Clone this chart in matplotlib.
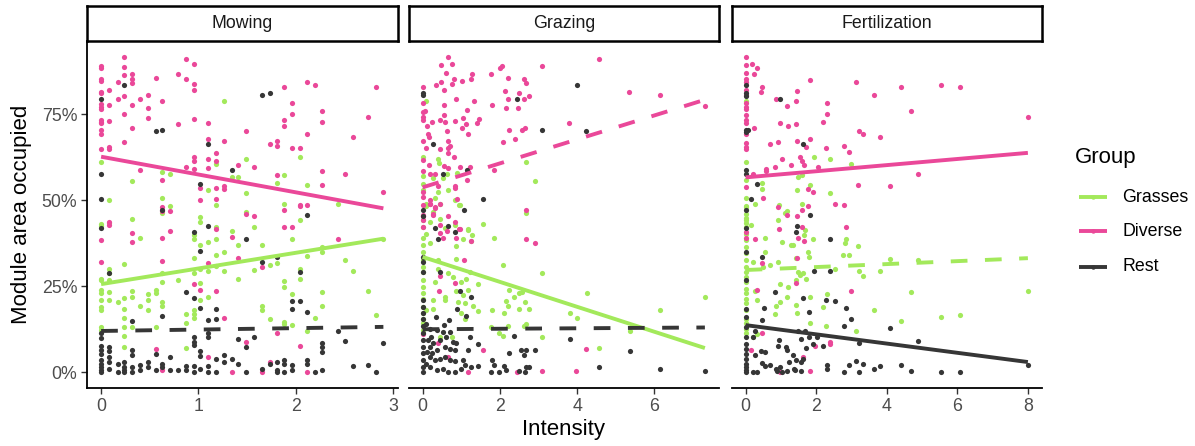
import numpy as np
import matplotlib
matplotlib.use("Agg")
import matplotlib.pyplot as plt
from matplotlib.lines import Line2D
from matplotlib.ticker import FuncFormatter

plt.rcParams['font.family'] = ['Liberation Sans', 'DejaVu Sans']

# ---- data: (intensity, share of module area) per treatment and group ----
mowing_grasses = [
    (1.26, .789), (0, .612), (1.49, .619), (2.04, .626), (0.32, .556), (0.63, .582), (0.71, .577), (1.18, .605),
    (1.34, .566), (1.41, .566), (1.10, .530), (1.18, .487), (1.49, .522), (1.81, .549), (1.88, .572), (2.12, .543),
    (0.085, .499), (0.63, .505), (0.71, .482), (0.63, .463), (0.32, .444), (1.02, .450), (1.02, .437), (1.49, .466),
    (1.88, .490), (2.43, .488), (2.04, .441), (0, .430), (0, .425), (0.085, .434), (0.40, .389), (1.18, .421),
    (1.57, .423), (1.34, .411), (0.95, .398), (0.95, .386), (1.02, .371), (1.10, .377), (1.18, .386), (1.41, .371),
    (1.65, .369), (1.96, .388), (2.90, .386), (0.085, .301), (0.085, .287), (0.085, .267), (0, .272), (0, .267),
    (0, .238), (0, .229), (0, .209), (0, .190), (0, .180), (0, .132), (0, .123), (0.085, .234), (0.085, .211),
    (0.17, .204), (0.24, .314), (0.24, .216), (0.24, .183), (0.24, .158), (0.24, .132), (0.24, .105), (0.24, .074),
    (0.32, .235), (0.32, .219), (0.32, .132), (0.40, .192), (0.48, .228), (0.48, .209), (0.48, .182), (0.56, .240),
    (0.56, .229), (0.56, .132), (0.63, .287), (0.63, .261), (0.63, .204), (0.63, .193), (0.79, .269), (0.87, .168),
    (0.87, .142), (0.87, .071), (0.95, .333), (0.95, .289), (0.95, .182), (0.95, .168), (0.95, .158), (1.02, .299),
    (1.02, .258), (1.02, .209), (1.10, .294), (1.10, .219), (1.18, .340), (1.18, .309), (1.26, .348), (1.26, .294),
    (1.41, .272), (1.57, .297), (1.65, .193), (1.65, .182), (1.73, .311), (1.73, .154), (1.81, .318), (1.88, .265),
    (1.88, .248), (1.88, .146), (1.88, .139), (1.96, .228), (1.96, .137), (2.04, .301), (2.04, .272), (2.12, .337),
    (2.12, .119), (2.20, .158), (2.27, .364), (2.27, .349), (2.27, .232), (2.27, .192), (2.51, .327), (2.59, .294),
    (2.74, .235), (2.82, .165),
]
mowing_diverse = [
    (0.24, .915), (0, .890), (0, .885), (0.24, .887), (0.87, .910), (0.95, .894), (0, .853), (0, .847), (0.24, .864),
    (0.32, .867), (0.32, .853), (0.32, .841), (0.17, .843), (0.56, .855), (0.79, .866), (0.87, .851), (0.95, .837),
    (0.95, .819), (0, .815), (0, .810), (0.085, .820), (0.24, .802), (0.17, .795), (0.40, .795), (0.48, .806),
    (0.63, .788), (0, .779), (0, .771), (0, .764), (0.085, .775), (0.32, .775), (0.48, .768), (0.48, .739),
    (0, .734), (0, .728), (0, .723), (0.085, .731), (0.32, .710), (0.24, .749), (0.79, .720), (0.95, .736),
    (1.10, .725), (0, .703), (0, .691), (0.24, .669), (0, .648), (0.085, .655), (0.085, .648), (1.10, .676),
    (1.26, .673), (1.49, .700), (1.88, .828), (2.12, .844), (2.20, .835), (1.96, .782), (2.82, .829), (2.27, .759),
    (1.96, .749), (1.88, .734), (1.88, .715), (2.27, .728), (2.74, .740), (2.12, .692), (2.59, .683), (1.73, .663),
    (1.81, .672), (1.81, .657), (1.96, .652), (2.04, .652), (0.95, .625), (0.95, .613), (0.95, .590), (0.87, .597),
    (1.10, .620), (1.10, .593), (1.18, .638), (1.18, .614), (1.41, .601), (1.57, .597), (0.40, .588), (0.63, .558),
    (1.02, .536), (1.18, .536), (1.26, .542), (1.26, .531), (1.02, .499), (1.18, .504), (1.81, .574), (2.27, .585),
    (2.27, .545), (2.51, .577), (2.90, .524), (2.04, .487), (2.04, .482), (2.12, .487), (1.88, .471), (0.63, .479),
    (0.71, .469), (0.63, .469), (1.49, .459), (1.57, .454), (0.085, .437), (0.085, .429), (1.88, .422), (1.96, .422),
    (0, .385), (0.32, .405), (0.32, .377), (0.63, .390), (0.63, .324), (0.71, .409), (0, .319), (0.95, .256),
    (1.02, .240), (1.10, .316), (1.18, .235), (1.18, .415), (1.34, .392), (1.41, .333), (1.65, .306), (2.43, .387),
    (1.26, .158), (1.81, .113), (1.49, .088), (0.56, .069), (1.10, .044), (2.04, .076), (1.73, .030), (1.34, 0),
    (1.65, 0), (2.12, 0), (0.63, .006),
]
mowing_rest = [
    (0, .793), (0.24, .833), (1.65, .804), (1.73, .810), (0.56, .700), (0.63, .704), (1.10, .664), (1.34, .588),
    (0, .576), (1.02, .547), (0, .504), (0.63, .470), (2.12, .456), (1.10, .425), (0, .418), (0.085, .289),
    (0.95, .408), (1.02, .352), (1.49, .386), (1.65, .321), (1.81, .335), (2.04, .292), (0.87, .232), (0.95, .216),
    (1.02, .187), (1.18, .185), (0.63, .163), (0.32, .148), (1.10, .151), (1.18, .156), (1.96, .208), (2.04, .206),
    (1.96, .185), (2.12, .175), (0, .113), (0, .100), (0, .076), (0, .066), (0, .052), (0, .037), (0, .025),
    (0, .015), (0, .006), (0, 0), (0.085, .074), (0.085, .061), (0.085, .045), (0.085, .030), (0.085, .011),
    (0.17, .025), (0.17, 0), (0.24, .030), (0.24, .015), (0.24, .006), (0.24, 0), (0.32, .064), (0.32, .049),
    (0.32, .015), (0.32, .002), (0.40, .020), (0.40, .008), (0.48, .030), (0.48, .015), (0.56, .054), (0.56, .008),
    (0.63, .025), (0.63, .015), (0.71, .044), (0.71, .008), (0.79, .006), (0.87, .018), (0.87, .006), (0.95, .018),
    (0.95, .002), (0.95, .103), (0.95, .088), (0.95, .080), (1.02, .061), (1.02, .046), (1.02, .011), (1.10, .113),
    (1.10, .103), (1.10, .018), (1.10, .002), (1.18, .040), (1.18, 0), (1.26, .049), (1.26, .030), (1.34, .040),
    (1.41, .098), (1.41, .023), (1.49, .074), (1.57, .103), (1.49, .002), (1.65, .011), (1.73, .023), (1.81, .030),
    (1.81, .006), (1.81, .002), (1.88, .035), (1.88, .023), (1.88, .002), (1.96, .020), (1.96, .006), (2.12, .035),
    (2.12, .023), (2.20, .002), (2.27, .006), (2.27, .085), (2.27, .074), (2.27, .059), (2.43, .120), (2.51, .090),
    (2.59, .019), (2.74, .020), (2.82, 0), (2.90, .085),
]

grazing_grasses = [
    (0.09, .788), (0, .626), (0.41, .620), (0.43, .607), (0, .570), (0.26, .564), (0.54, .564), (0.64, .575),
    (0.88, .580), (2.68, .611), (2.91, .555), (0, .548), (0, .529), (0.40, .524), (0.67, .530), (0.33, .507),
    (0.44, .489), (0.83, .499), (0.93, .487), (0.08, .489), (0.10, .483), (0.27, .466), (0, .441), (0.20, .436),
    (0.44, .444), (2.69, .464), (1.56, .430), (1.17, .415), (0, .423), (0, .389), (0, .369), (0, .350), (0, .326),
    (0, .306), (0, .292), (0, .267), (0, .248), (0, .229), (0, .214), (0, .190), (0, .171), (0, .156), (0, .142),
    (0, .122), (0.19, .374), (0.40, .326), (0.40, .301), (0.32, .262), (0.27, .209), (0.27, .185), (0.57, .418),
    (0.83, .428), (0.86, .367), (0.86, .330), (0.96, .485), (0.66, .289), (0.79, .277), (0.57, .219), (0.57, .209),
    (0.86, .237), (0.91, .205), (1.00, .263), (1.13, .272), (1.04, .224), (1.17, .239), (1.09, .200), (1.00, .171),
    (1.09, .156), (1.04, .386), (1.28, .398), (1.26, .381), (1.24, .291), (1.43, .255), (1.30, .192), (1.44, .178),
    (1.17, .414), (1.86, .389), (2.08, .313), (2.24, .239), (2.15, .208), (2.20, .192), (2.12, .171), (1.80, .182),
    (2.37, .219), (2.50, .229), (2.58, .234), (2.64, .205), (2.50, .185), (2.75, .183), (2.62, .134), (2.67, .140),
    (1.98, .113), (2.07, .105), (1.77, .132), (2.21, .134), (3.09, .287), (3.09, .103), (3.81, .173), (3.99, .159),
    (4.25, .229), (4.57, .072), (5.36, .119), (6.15, .180), (7.31, .219), (0.77, .103), (0.44, .103), (0.10, .181),
    (0.10, .403),
]
grazing_diverse = [
    (0.66, .915), (0.48, .892), (0.75, .894), (0.61, .868), (1.27, .866), (2.06, .888), (2.00, .885), (3.10, .888),
    (4.56, .910), (0.34, .834), (0.47, .843), (0.55, .820), (0.75, .837), (0.80, .851), (1.01, .845), (1.26, .852),
    (1.77, .865), (2.21, .854), (2.62, .853), (2.68, .840), (0, .828), (2.13, .818), (2.50, .810), (2.21, .795),
    (2.63, .794), (2.75, .802), (0.87, .794), (1.32, .788), (5.35, .815), (6.15, .806), (0, .781), (0, .757),
    (0.07, .758), (0, .740), (0, .733), (0.56, .775), (1.16, .763), (1.80, .777), (2.15, .767), (2.47, .766),
    (0.56, .748), (0.44, .733), (0.57, .727), (0.25, .727), (0.84, .729), (1.05, .739), (1.45, .736), (1.42, .725),
    (0.12, .715), (0.63, .702), (1.13, .720), (1.03, .710), (3.80, .724), (2.25, .703), (2.58, .703), (2.64, .710),
    (1.18, .691), (0.15, .691), (0.17, .682), (0, .671), (0.10, .651), (0.65, .672), (0.71, .656), (0.67, .650),
    (0.44, .648), (2.08, .668), (2.38, .677), (0.81, .624), (0.66, .638), (0, .616), (0.17, .601), (0.56, .599),
    (0.65, .592), (0.97, .597), (1.23, .597), (0, .585), (0.18, .575), (0.31, .575), (0.39, .541), (0.85, .541),
    (0.85, .536), (1.14, .557), (1.86, .587), (0, .524), (0, .510), (0.19, .499), (0.19, .488), (0.33, .478),
    (0.27, .459), (0, .454), (0, .442), (0, .423), (0.46, .427), (0.90, .504), (0.65, .455), (0.85, .436),
    (0.94, .416), (2.69, .470), (7.30, .774), (0, .486), (0.19, .490), (0.33, .481), (0.44, .488), (0, .457),
    (0.27, .457), (0.44, .405), (0.64, .411), (0.96, .415), (0.53, .391), (0.87, .391), (1.26, .382), (1.08, .326),
    (0.85, .258), (0.43, .237), (2.68, .386), (2.90, .376), (0, .112), (0.40, .085), (0.66, .045), (1.56, .064),
    (4.24, .069), (3.09, .005), (3.98, .004), (1.17, 0), (2.45, 0), (0.44, .279),
]
grazing_rest = [
    (0, .810), (0, .804), (3.99, .834), (2.45, .793), (3.09, .703), (4.24, .700), (0.27, .663), (1.16, .587),
    (0.53, .575), (1.56, .503), (1.08, .470), (0, .455), (0.32, .418), (0.66, .424), (0, .471), (0.85, .408),
    (0.40, .386), (0, .336), (0, .321), (0, .292), (0, .209), (0, .190), (0, .171), (0, .156), (0, .134), (0, .113),
    (0, .093), (0, .074), (0, .055), (0, .035), (0, .016), (0, .002), (0.44, .292), (0.97, .236), (1.26, .219),
    (0.88, .185), (1.12, .163), (0.34, .160), (0.68, .152), (0.55, .137), (0.19, .127), (0.36, .122), (0.53, .117),
    (0.70, .117), (0.23, .103), (0.44, .093), (0.61, .103), (0.79, .088), (0.87, .084), (0.19, .074), (0.36, .064),
    (0.57, .074), (0.70, .069), (0.83, .064), (0.19, .045), (0.32, .035), (0.44, .040), (0.57, .045), (0.70, .035),
    (0.85, .032), (1.04, .035), (1.09, .020), (1.26, .016), (1.43, .018), (0.19, .016), (0.36, .006), (0.53, .011),
    (0.66, .002), (0.85, 0), (1.00, .011), (1.23, .103), (1.18, .066), (1.44, .082), (1.80, .037), (1.84, .020),
    (1.77, 0), (1.98, .002), (2.11, .018), (2.15, .006), (2.24, .055), (2.37, .104), (2.56, .064), (2.68, .064),
    (2.63, .049), (2.90, .064), (2.50, .004), (2.68, .014), (2.66, 0), (2.75, .016), (3.81, .098), (4.57, .016),
    (5.36, .062), (6.15, .011), (7.31, .003), (0.10, .025), (0.12, .060), (0.28, .085), (0.15, .095), (0.25, .055),
    (0.08, .140),
]

fert_grasses = [
    (0, .789), (1.95, .626), (2.40, .620), (2.98, .605), (0, .612), (0, .557), (0, .505), (0, .484), (0, .447),
    (0, .433), (1.48, .568), (1.60, .572), (1.46, .529), (1.83, .543), (0.46, .549), (0.46, .531), (2.40, .522),
    (0.26, .489), (0.94, .486), (1.60, .490), (1.16, .467), (1.12, .462), (0.91, .441), (0.15, .429), (0, .481),
    (0, .461), (0, .442), (0, .423), (0, .403), (0, .384), (0, .364), (0, .345), (0, .326), (0, .306), (0, .292),
    (0, .277), (0, .262), (0, .243), (0, .229), (0, .214), (0, .200), (0, .181), (0, .156), (0, .142), (0, .127),
    (0, .113), (1.66, .398), (1.67, .413), (0.56, .389), (1.03, .377), (1.33, .371), (1.29, .371), (0.56, .350),
    (1.90, .387), (2.85, .387), (2.81, .374), (3.19, .366), (1.77, .350), (1.79, .335), (2.77, .340), (2.92, .340),
    (0.69, .313), (0.91, .320), (0.50, .306), (0.22, .319), (1.44, .333), (1.48, .292), (1.62, .289), (1.55, .282),
    (1.72, .272), (1.42, .269), (2.53, .301), (3.22, .294), (3.33, .281), (3.81, .294), (4.09, .328), (4.88, .327),
    (0.97, .255), (1.20, .248), (0.26, .236), (0.32, .209), (1.17, .218), (0.97, .204), (0.85, .192), (0.84, .168),
    (1.42, .194), (1.46, .171), (1.83, .218), (1.83, .143), (2.19, .191), (2.30, .227), (2.28, .135), (3.12, .121),
    (3.63, .180), (4.41, .148), (4.68, .232), (5.54, .160), (6.07, .165), (8.00, .236), (0.33, .112), (0.22, .103),
]
fert_diverse = [
    (0, .915), (0, .892), (0, .868), (0, .853), (0, .844), (0, .820), (0, .805), (0, .781), (0, .771), (0, .764),
    (0, .747), (0, .733), (0, .723), (0, .692), (0, .667), (0, .653), (0, .647), (0, .537), (0.19, .895),
    (0.33, .885), (0.25, .865), (0.47, .827), (0.45, .815), (1.83, .850), (3.12, .843), (4.41, .828), (5.54, .835),
    (6.07, .829), (1.46, .818), (3.63, .806), (0.85, .795), (1.42, .788), (1.17, .774), (2.30, .782), (2.30, .749),
    (4.68, .759), (8.00, .740), (0.25, .710), (0.97, .725), (1.20, .715), (1.42, .720), (2.19, .727), (3.22, .701),
    (3.33, .692), (3.81, .683), (0.69, .663), (0.91, .670), (1.47, .673), (1.83, .676), (1.70, .653), (2.28, .652),
    (2.80, .658), (2.92, .639), (1.02, .620), (1.55, .626), (1.60, .613), (1.30, .602), (1.65, .602), (0.84, .597),
    (0.57, .591), (0.57, .585), (2.04, .597), (0.22, .575), (4.88, .577), (3.19, .545), (4.09, .541), (1.77, .532),
    (1.90, .524), (0.50, .505), (2.54, .488), (2.80, .487), (1.78, .484), (0.92, .481), (1.16, .458), (1.47, .455),
    (1.60, .471), (2.85, .423), (0.94, .416), (1.60, .422), (0, .407), (0, .389), (0.26, .387), (0.47, .316),
    (1.48, .391), (1.65, .380), (1.46, .333), (1.44, .258), (0.33, .240), (2.98, .236), (0.47, .113), (2.40, .088),
    (2.40, .083), (1.96, .077), (0.15, .064), (1.64, .045), (0.97, 0), (1.83, .003),
]
fert_rest = [
    (0, .834), (0, .810), (0, .802), (0, .703), (0, .698), (0, .587), (0, .577), (0, .470), (0, .418), (0.07, .705),
    (0.98, .793), (1.64, .664), (0.32, .547), (0.15, .503), (1.83, .456), (1.46, .425), (0, .350), (0, .267),
    (0, .185), (0, .161), (0, .132), (0, .103), (0, .083), (0, .069), (0, .054), (0, .040), (0, .025), (0, .015),
    (0, .006), (0, 0), (1.44, .408), (2.40, .386), (0.47, .335), (1.95, .294), (2.40, .294), (0.84, .232),
    (1.64, .216), (2.28, .209), (2.53, .207), (0.53, .186), (1.79, .175), (2.85, .186), (2.98, .156), (2.80, .135),
    (0.47, .151), (4.09, .128), (0.26, .119), (0.20, .103), (1.48, .119), (1.67, .121), (1.58, .097), (1.81, .103),
    (2.02, .103), (0.94, .095), (0.91, .076), (1.14, .074), (1.17, .066), (1.72, .072), (1.91, .083), (2.19, .077),
    (3.20, .086), (4.88, .092), (0.45, .062), (0.56, .059), (0.26, .051), (1.34, .049), (1.44, .037), (1.62, .040),
    (1.58, .030), (1.23, .030), (0.46, .028), (0.56, .018), (0.69, .022), (0.85, .011), (0.97, .016), (0.88, .004),
    (1.02, .001), (1.17, .003), (1.38, .011), (1.41, .006), (1.57, .004), (0.22, .001), (0.33, .001), (2.30, .020),
    (2.30, .009), (2.80, 0), (2.92, .020), (3.12, .032), (3.22, 0), (3.33, .023), (3.63, .011), (3.81, .019),
    (4.41, .020), (4.68, .005), (5.54, .002), (6.07, .001), (8.00, .020),
]

treatments = ["Mowing", "Grazing", "Fertilization"]
groups = ["Grasses", "Diverse", "Rest"]
points = {
    "Mowing": [mowing_grasses, mowing_diverse, mowing_rest],
    "Grazing": [grazing_grasses, grazing_diverse, grazing_rest],
    "Fertilization": [fert_grasses, fert_diverse, fert_rest],
}
# fitted linear trends: (intercept, slope, significant)
trends = {
    "Mowing": [(0.256, 0.0455, True), (0.626, -0.0517, True), (0.120, 0.0041, False)],
    "Grazing": [(0.335, -0.0362, True), (0.537, 0.0348, False), (0.125, 0.0007, False)],
    "Fertilization": [(0.297, 0.0043, False), (0.566, 0.0089, True), (0.137, -0.0134, True)],
}
x_ticks = {"Mowing": [0, 1, 2, 3], "Grazing": [0, 2, 4, 6], "Fertilization": [0, 2, 4, 6, 8]}

colors = {"Grasses": "#A3E95B", "Diverse": "#EA4899", "Rest": "#363636"}

W, H = 1195, 446
fig = plt.figure(figsize=(W / 100, H / 100), dpi=100)


def box(l, t, r, b):
    return [l / W, 1 - b / H, (r - l) / W, (b - t) / H]


lefts = [87, 408.5, 731.5]
pw = 310.5
top, bottom = 41, 388

for k, name in enumerate(treatments):
    l = lefts[k]
    ax = fig.add_axes(box(l, top, l + pw, bottom))
    data = [np.array(p) for p in points[name]]
    xmax = max(d[:, 0].max() for d in data)
    pad = 0.05 * xmax
    ax.set_xlim(-pad, xmax + pad)
    ax.set_ylim(-0.0456, 0.962)

    for g, d in zip(groups, data):
        ax.scatter(d[:, 0], d[:, 1], s=14, color=colors[g], linewidths=0, zorder=2)

    xs = np.array([0, xmax])
    for g, (a, b, sig) in zip(groups, trends[name]):
        line, = ax.plot(xs, a + b * xs, color=colors[g], lw=2.8, zorder=3,
                        solid_capstyle='butt', dash_capstyle='butt')
        if not sig:
            line.set_dashes((4.3, 4.5))

    for s in ['top', 'right']:
        ax.spines[s].set_visible(False)
    ax.spines['bottom'].set_linewidth(1.3)
    ax.spines['left'].set_linewidth(1.3)
    ax.set_xticks(x_ticks[name])
    ax.tick_params(axis='both', length=4, width=1.0, color='#333333',
                   labelsize=12.8, labelcolor='#4D4D4D', pad=3)
    if k == 0:
        ax.set_yticks([0, 0.25, 0.5, 0.75])
        ax.yaxis.set_major_formatter(FuncFormatter(lambda v, _: f"{v * 100:.0f}%"))
    else:
        ax.spines['left'].set_visible(False)
        ax.set_yticks([])

    # facet strip
    sax = fig.add_axes(box(l, 6, l + pw, top))
    sax.set_xticks([])
    sax.set_yticks([])
    for s in sax.spines.values():
        s.set_linewidth(1.8)
        s.set_color('black')
    sax.text(0.5, 0.5, name, ha='center', va='center', fontsize=12.8, color='#1A1A1A',
             transform=sax.transAxes)

fig.text(22 / W, 1 - (top + bottom) / 2 / H, "Module area occupied", rotation=90,
         ha='center', va='center', fontsize=16)
fig.text(564 / W, 1 - 430 / H, "Intensity", ha='center', va='center', fontsize=16)

# legend
fig.text(1075 / W, 1 - 158 / H, "Group", ha='left', va='center', fontsize=16)
for g, yk in zip(groups, [197, 231, 266.5]):
    yf = 1 - yk / H
    fig.add_artist(Line2D([1079 / W, 1107 / W], [yf, yf], color=colors[g], lw=2.8,
                          solid_capstyle='butt', transform=fig.transFigure))
    fig.add_artist(Line2D([1093 / W], [yf], marker='o', ms=3.2, color=colors[g], mew=0,
                          transform=fig.transFigure))
    fig.text(1122 / W, yf, g, ha='left', va='center', fontsize=12.8, color='black')

fig.savefig("out.png", dpi=100)
